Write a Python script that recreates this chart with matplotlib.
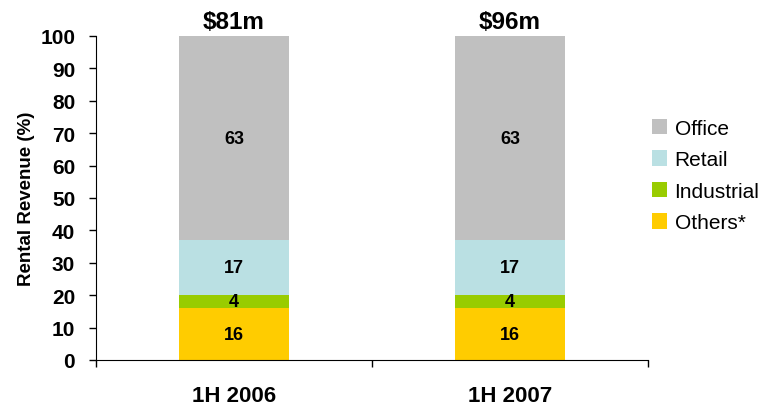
import matplotlib.pyplot as plt
import numpy as np

plt.rcParams['font.family'] = ['Liberation Sans', 'DejaVu Sans']

periods = ['1H 2006', '1H 2007']
totals = ['$81m', '$96m']
segments = ['Others*', 'Industrial', 'Retail', 'Office']
others = [16, 16]
industrial = [4, 4]
retail = [17, 17]
office = [63, 63]
colors = ['#FFCC00', '#99CC00', '#BAE0E3', '#C0C0C0']


def main():
    fig = plt.figure(figsize=(7.64, 4.06), dpi=100)
    ax = fig.add_axes([0.1257, 0.111, 0.7225, 0.798])

    x = np.arange(len(periods))
    bottom = np.zeros(len(periods))
    handles = []
    for name, vals, c in zip(segments, [others, industrial, retail, office], colors):
        bars = ax.bar(x, vals, 0.4, bottom=bottom, color=c, label=name)
        handles.append(bars)
        for xi, b, v in zip(x, bottom, vals):
            ax.text(xi, b + v / 2, str(v), ha='center', va='center',
                    fontsize=13, fontweight='bold')
        bottom = bottom + np.array(vals)

    for xi, t in zip(x, totals):
        ax.annotate(t, (xi, 100), xytext=(0, 6), textcoords='offset points',
                    ha='center', va='baseline', fontsize=17.5, fontweight='bold')

    ax.set_xlim(-0.5, 1.5)
    ax.set_ylim(0, 100)
    ax.set_yticks(range(0, 101, 10))
    ax.tick_params(axis='y', labelsize=15, length=5, width=1, pad=10)
    for lab in ax.get_yticklabels():
        lab.set_fontweight('bold')
    ax.set_xticks([-0.5, 0.5, 1.5], minor=False)
    ax.set_xticklabels([])
    ax.tick_params(axis='x', length=5, width=1)
    ax.set_xticks(x, minor=True)
    ax.set_xticklabels(periods, minor=True, fontsize=16, fontweight='bold')
    ax.tick_params(axis='x', which='minor', length=0, pad=18)

    ax.set_ylabel('Rental Revenue (%)', fontsize=13.5, fontweight='bold', labelpad=4)
    ax.spines['top'].set_visible(False)
    ax.spines['right'].set_visible(False)

    fig.legend(handles[::-1], segments[::-1], loc='center left',
               bbox_to_anchor=(0.853, 0.565), frameon=False, fontsize=15,
               handlelength=0.75, handleheight=0.75, handletextpad=0.35,
               labelspacing=0.6, borderaxespad=0, borderpad=0)

    fig.savefig('out.png', dpi=100)


if __name__ == '__main__':
    main()
